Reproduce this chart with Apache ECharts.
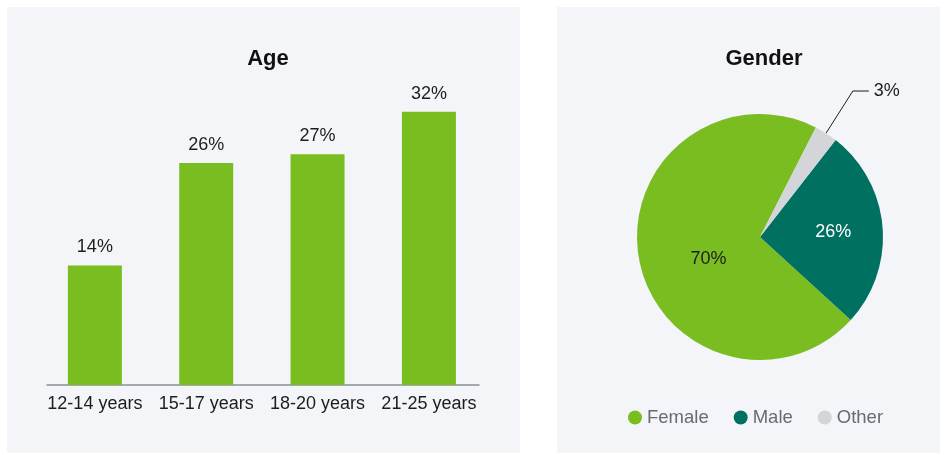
<!DOCTYPE html>
<html>
<head>
<meta charset="utf-8">
<script src="https://cdn.jsdelivr.net/npm/echarts@6/dist/echarts.min.js"></script>
<style>
  html, body { margin: 0; padding: 0; background: #fff; }
  #main { width: 948px; height: 455px; }
</style>
</head>
<body>
<div id="main"></div>
<script>
// age chart data
const ageCategories = ['12-14 years', '15-17 years', '18-20 years', '21-25 years'];
const ageValues = [14, 26, 27, 32];

// gender chart data
const genderNames = ['Female', 'Male', 'Other'];
const genderValues = [70, 26, 3];
const genderColors = ['#79bd21', '#007060', '#d4d5d8'];

const font = 'Liberation Sans, Arial, Helvetica, sans-serif';
const chart = echarts.init(document.getElementById('main'));

// bars sit on a value axis so the bands can be a bit wider than the axis line
const barData = ageValues.map((v, i) => [i, v]);

const pieData = genderNames.map((name, i) => {
    const item = { name: name, value: genderValues[i], itemStyle: { color: genderColors[i] } };
    if (name === 'Other') {
        item.label = { position: 'outside', color: '#1d1d1f' };
        item.labelLine = { show: true };
    } else if (name === 'Male') {
        item.label = { position: 'inside', color: '#fff', offset: [9, 0] };
        item.labelLine = { show: false };
    } else {
        item.label = { position: 'inside', color: '#1d1d1f', offset: [12, 11] };
        item.labelLine = { show: false };
    }
    return item;
});

const option = {
    animation: false,
    textStyle: { fontFamily: font },
    graphic: [
        { type: 'rect', z: -10, shape: { x: 7, y: 7, width: 513, height: 446 }, style: { fill: '#f4f5f9' } },
        { type: 'rect', z: -10, shape: { x: 557, y: 7, width: 383, height: 446 }, style: { fill: '#f4f5f9' } }
    ],
    title: [
        { text: 'Age', left: 263, top: 43, textAlign: 'center',
          textStyle: { fontSize: 22, fontWeight: 'bold', color: '#111', fontFamily: font } },
        { text: 'Gender', left: 759, top: 43, textAlign: 'center',
          textStyle: { fontSize: 22, fontWeight: 'bold', color: '#111', fontFamily: font } }
    ],
    legend: {
        data: genderNames,
        left: 623,
        bottom: 23,
        icon: 'circle',
        itemWidth: 14,
        itemHeight: 14,
        itemGap: 25,
        textStyle: { fontSize: 18.5, color: '#676b72', fontFamily: font }
    },
    grid: { left: 47, top: 86, width: 432, height: 299 },
    xAxis: {
        type: 'value',
        min: -0.43,
        max: 3.45,
        splitLine: { show: false },
        axisLine: { show: true, lineStyle: { color: '#8a8f98', width: 1.5 } },
        axisTick: { show: false },
        axisLabel: {
            customValues: [0, 1, 2, 3],
            formatter: function (v) { return ageCategories[Math.round(v)]; },
            fontSize: 18,
            color: '#1d1d1f',
            margin: 10
        }
    },
    yAxis: {
        type: 'value',
        min: 0,
        max: 35,
        show: false
    },
    series: [
        {
            type: 'bar',
            data: barData,
            barWidth: 54,
            itemStyle: { color: '#79bd21' },
            label: {
                show: true,
                position: 'top',
                distance: 9,
                formatter: function (p) { return p.value[1] + '%'; },
                fontSize: 18,
                color: '#1d1d1f'
            }
        },
        {
            type: 'pie',
            center: [760, 237],
            radius: 123,
            clockwise: false,
            startAngle: 63,
            data: pieData,
            label: { show: true, formatter: '{c}%', fontSize: 18 },
            labelLine: { length: 50, length2: 16, lineStyle: { color: '#1d1d1f', width: 1 } }
        }
    ]
};

chart.setOption(option);
window.addEventListener('resize', function () {
    chart.resize();
});
</script>
</body>
</html>
